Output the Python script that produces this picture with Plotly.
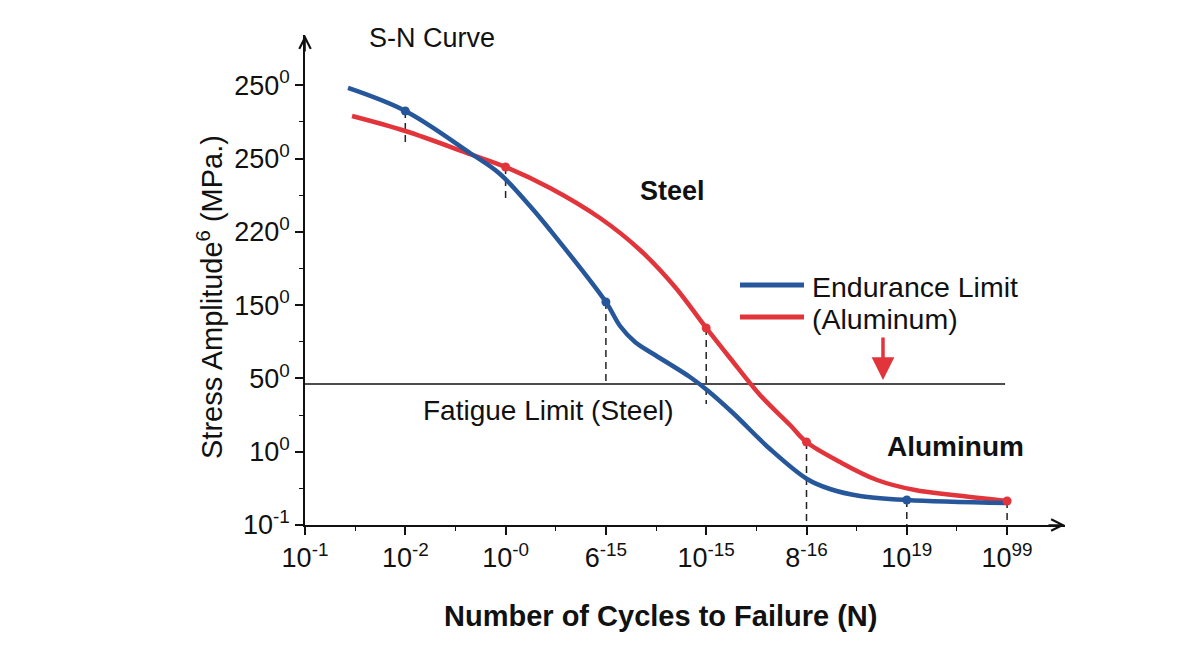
import plotly.graph_objects as go

# ---------------- data (positions in tick-index units) ----------------
x_tick_labels = ["10<sup>-1</sup>", "10<sup>-2</sup>", "10<sup>-0</sup>", "6<sup>-15</sup>",
                 "10<sup>-15</sup>", "8<sup>-16</sup>", "10<sup>19</sup>", "10<sup>99</sup>"]
y_tick_labels = ["10<sup>-1</sup>", "10<sup>0</sup>", "50<sup>0</sup>", "150<sup>0</sup>",
                 "220<sup>0</sup>", "250<sup>0</sup>", "250<sup>0</sup>"]

blue_x = [0.429, 1.0, 1.645, 1.944, 2.243, 2.443, 3.0, 3.141, 3.29, 3.49, 3.838, 4.008,
          4.267, 4.636, 5.005, 5.234, 5.533, 6.0, 7.0]
blue_y = [5.962, 5.648, 5.075, 4.789, 4.352, 4.025, 3.042, 2.715, 2.497, 2.319, 2.019, 1.842,
          1.528, 1.037, 0.628, 0.491, 0.396, 0.341, 0.30]

red_x = [0.469, 1.0, 1.645, 2.0, 2.443, 2.941, 3.34, 3.689, 4.0, 4.237, 4.536, 4.836, 5.0,
         5.334, 5.703, 6.082, 6.461, 7.0]
red_y = [5.58, 5.375, 5.061, 4.884, 4.598, 4.188, 3.752, 3.247, 2.688, 2.278, 1.774, 1.364, 1.132,
         0.859, 0.614, 0.477, 0.409, 0.327]

blue_marker_x = [1.0, 3.0, 6.0]
blue_marker_y = [5.648, 3.042, 0.341]
red_marker_x = [2.0, 4.0, 5.0, 7.0]
red_marker_y = [4.884, 2.688, 1.132, 0.327]

drop_x = [1.0, 2.0, 3.0, 4.0, 5.0, 6.0, 7.0]
drop_top = [5.648, 4.884, 3.042, 2.688, 1.132, 0.341, 0.327]
drop_bottom = [5.21, 4.46, 1.96, 1.65, 0.0, 0.0, 0.0]

fatigue_limit_y = 1.924
fatigue_x = [0.0, 6.98]

BLUE = "#27579b"
RED = "#e2353b"
FONT = "Liberation Sans, Arial, sans-serif"

fig = go.Figure()

# dashed drop lines
dx, dy = [], []
for x, t, b in zip(drop_x, drop_top, drop_bottom):
    dx += [x, x, None]
    dy += [t, b, None]
fig.add_trace(go.Scatter(x=dx, y=dy, mode="lines",
                         line=dict(color="#222222", width=1.5, dash="7px,5px"),
                         hoverinfo="skip", showlegend=False))

# fatigue limit line
fig.add_trace(go.Scatter(x=fatigue_x, y=[fatigue_limit_y, fatigue_limit_y], mode="lines",
                         line=dict(color="#111111", width=1.6), showlegend=False))

# curves
fig.add_trace(go.Scatter(x=red_x, y=red_y, mode="lines",
                         line=dict(color=RED, width=4.5, shape="spline", smoothing=1.0),
                         name="(Aluminum)", showlegend=False))
fig.add_trace(go.Scatter(x=blue_x, y=blue_y, mode="lines",
                         line=dict(color=BLUE, width=4.5, shape="spline", smoothing=1.0),
                         name="Endurance Limit", showlegend=False))
fig.add_trace(go.Scatter(x=red_marker_x, y=red_marker_y, mode="markers",
                         marker=dict(color=RED, size=9), showlegend=False))
fig.add_trace(go.Scatter(x=blue_marker_x, y=blue_marker_y, mode="markers",
                         marker=dict(color=BLUE, size=9), showlegend=False))

# plot area: x 305..1065 px, y 35..525 px
L, R, T, B = 305, 135, 35, 129
W, H = 1200 - L - R, 654 - T - B


def px(xp):
    return (xp - L) / W


def py(yp):
    return (654 - B - yp) / H


annotations = [
    dict(x=px(432), y=py(38), text="S-N Curve", font=dict(size=27, color="#111"),
         showarrow=False, xanchor="center", yanchor="middle"),
    dict(x=px(672), y=py(191), text="<b>Steel</b>", font=dict(size=27, color="#111"),
         showarrow=False, xanchor="center", yanchor="middle"),
    dict(x=px(955), y=py(446), text="<b>Aluminum</b>", font=dict(size=28, color="#111"),
         showarrow=False, xanchor="center", yanchor="middle"),
    dict(x=px(548), y=py(410), text="Fatigue Limit (Steel)", font=dict(size=28, color="#111"),
         showarrow=False, xanchor="center", yanchor="middle"),
    dict(x=px(810), y=py(287), text="Endurance Limit", font=dict(size=28.5, color="#111"),
         showarrow=False, xanchor="left", yanchor="middle"),
    dict(x=px(810), y=py(319), text="(Aluminum)", font=dict(size=28.5, color="#111"),
         showarrow=False, xanchor="left", yanchor="middle"),
    dict(x=px(660), y=py(616), text="<b>Number of Cycles to Failure (N)</b>",
         font=dict(size=29, color="#111"), showarrow=False, xanchor="center", yanchor="middle"),
    dict(x=px(210), y=py(297), text="Stress Amplitude<sup>6</sup> (MPa.)",
         font=dict(size=29, color="#111"), textangle=-90, showarrow=False,
         xanchor="center", yanchor="middle"),
    # red arrow
    dict(x=px(883), y=py(380), ax=0, ay=-44, text="", showarrow=True,
         arrowhead=2, arrowsize=1.3, arrowwidth=3.5, arrowcolor=RED),
    # axis arrows
    dict(x=1.0, y=0.0, ax=-18, ay=0, text="", showarrow=True,
         arrowhead=5, arrowsize=1.4, arrowwidth=1.6, arrowcolor="#111"),
    dict(x=0.0, y=1.0, ax=0, ay=18, text="", showarrow=True,
         arrowhead=5, arrowsize=1.4, arrowwidth=1.6, arrowcolor="#111"),
]
for a in annotations:
    a["xref"] = "paper"
    a["yref"] = "paper"

shapes = [
    dict(type="line", xref="paper", yref="paper", x0=px(740), x1=px(804), y0=py(285), y1=py(285),
         line=dict(color=BLUE, width=5)),
    dict(type="line", xref="paper", yref="paper", x0=px(740), x1=px(804), y0=py(317), y1=py(317),
         line=dict(color=RED, width=5)),
]

fig.update_layout(
    width=1200, height=654,
    margin=dict(l=L, r=R, t=T, b=B),
    paper_bgcolor="white", plot_bgcolor="white",
    font=dict(family=FONT, color="#111"),
    showlegend=False,
    annotations=annotations,
    shapes=shapes,
    xaxis=dict(range=[0, W / 100.3], showgrid=False, zeroline=False,
               showline=True, linecolor="#111", linewidth=1.6,
               tickmode="array", tickvals=list(range(len(x_tick_labels))), ticktext=x_tick_labels,
               ticks="outside", ticklen=8, tickwidth=1.5, tickcolor="#111",
               tickfont=dict(size=27, color="#111"),
               minor=dict(tickmode="array", tickvals=[i + 0.5 for i in range(7)],
                          ticks="outside", ticklen=4, tickwidth=1.3, tickcolor="#111", showgrid=False)),
    yaxis=dict(range=[0, H / 73.3], showgrid=False, zeroline=False,
               showline=True, linecolor="#111", linewidth=1.6,
               tickmode="array", tickvals=list(range(len(y_tick_labels))), ticktext=y_tick_labels,
               ticks="outside", ticklen=8, tickwidth=1.5, tickcolor="#111",
               tickfont=dict(size=27, color="#111"),
               minor=dict(tickmode="array", tickvals=[i + 0.5 for i in range(6)],
                          ticks="outside", ticklen=4, tickwidth=1.3, tickcolor="#111", showgrid=False)),
)

fig.write_html("out.html")
